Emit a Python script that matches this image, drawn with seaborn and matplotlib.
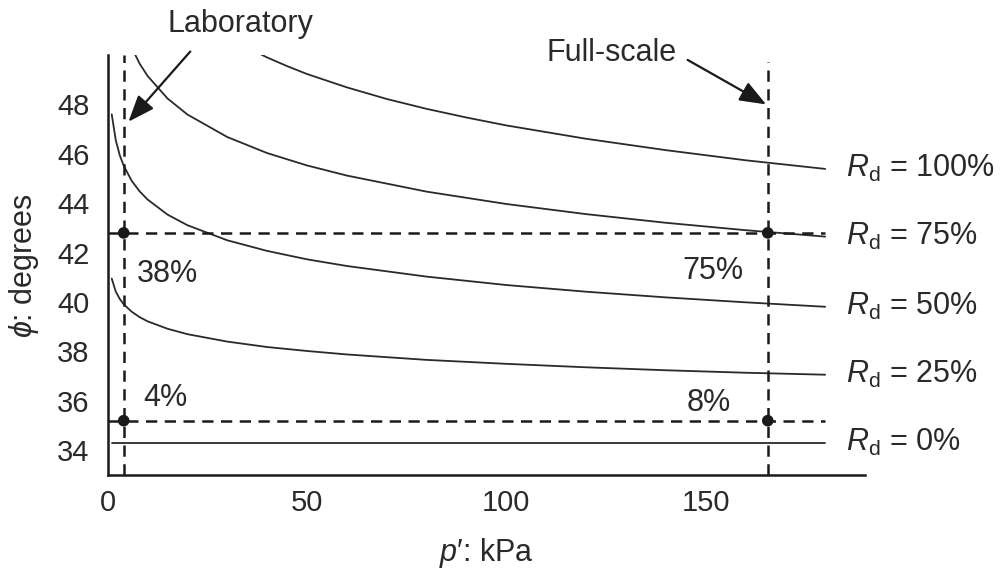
import numpy as np
import pandas as pd
import matplotlib
matplotlib.use("Agg")
import matplotlib.pyplot as plt
import seaborn as sns

# ---- data ----
p_25 = [1, 2, 3, 4, 6, 8, 10, 15, 20, 30, 40, 50, 60, 80, 100, 120, 140, 160, 180]
phi_25 = [40.95, 40.43, 40.13, 39.91, 39.61, 39.39, 39.22, 38.92, 38.70, 38.40,
          38.18, 38.02, 37.88, 37.66, 37.50, 37.36, 37.24, 37.14, 37.06]

p_50 = [1, 2, 3, 4, 6, 8, 10, 15, 20, 30, 40, 50, 60, 80, 100, 120, 140, 160, 180]
phi_50 = [47.60, 46.56, 45.95, 45.52, 44.91, 44.48, 44.15, 43.54, 43.11, 42.50,
          42.07, 41.73, 41.46, 41.03, 40.69, 40.42, 40.19, 39.99, 39.81]

p_75 = [6, 8, 10, 15, 20, 30, 40, 50, 60, 80, 100, 120, 140, 160, 180]
phi_75 = [50.30, 49.65, 49.15, 48.24, 47.59, 46.68, 46.03, 45.53, 45.12, 44.47,
          43.97, 43.56, 43.21, 42.91, 42.65]

p_100 = [38, 40, 45, 50, 60, 70, 80, 90, 100, 120, 140, 160, 180]
phi_100 = [50.06, 49.90, 49.55, 49.23, 48.69, 48.22, 47.82, 47.47, 47.15, 46.61,
           46.15, 45.74, 45.39]

p_0 = [1, 180]
phi_0 = [34.3, 34.3]

curve_labels = ["100%", "75%", "50%", "25%", "0%"]

lab_p = 4.0
full_p = 165.6
ref_phi = [42.8, 35.2]
pct_labels_lab = ["38%", "4%"]
pct_labels_full = ["75%", "8%"]

xticks = [0, 50, 100, 150]
yticks = [34, 36, 38, 40, 42, 44, 46, 48]

# ---- style ----
sns.set_theme(style="white")
plt.rcParams["font.family"] = ["Liberation Sans", "DejaVu Sans"]
plt.rcParams["mathtext.fontset"] = "custom"
plt.rcParams["mathtext.rm"] = "Liberation Sans"
plt.rcParams["mathtext.it"] = "Liberation Sans:italic"
plt.rcParams["mathtext.fallback"] = "cm"

ink = "#2a2a2a"
FS = 22
fig = plt.figure(figsize=(10.07, 5.73), dpi=100)
ax = fig.add_axes([0.107, 0.171, 0.752, 0.733])

curves = [(p_100, phi_100), (p_75, phi_75), (p_50, phi_50), (p_25, phi_25), (p_0, phi_0)]
for (px, py) in curves:
    sns.lineplot(x=px, y=py, ax=ax, color=ink, linewidth=1.3, estimator=None, sort=False)

# dashed reference lines
dash = dict(color="#1a1a1a", linewidth=1.8, linestyle=(0, (4.5, 3)))
for yv in ref_phi:
    ax.plot([0, 180], [yv, yv], **dash)
ax.plot([lab_p, lab_p], [33, 50], **dash)
ax.plot([full_p, full_p], [33, 49.7], **dash)

pts = pd.DataFrame({"p": [lab_p, lab_p, full_p, full_p],
                    "phi": [ref_phi[0], ref_phi[1], ref_phi[0], ref_phi[1]]})
sns.scatterplot(data=pts, x="p", y="phi", ax=ax, color="#1a1a1a", s=70,
                edgecolor="none", zorder=5)

# curve labels on the right
ends = [phi_100[-1], phi_75[-1], phi_50[-1], phi_25[-1], phi_0[-1]]
for lab, yv in zip(curve_labels, ends):
    ax.text(185.3, yv, r"$R_{\mathrm{d}}$ = " + lab, fontsize=FS, color=ink,
            va="center", ha="left", clip_on=False)

# percentage annotations
ax.text(15, 41.12, pct_labels_lab[0], fontsize=FS, color=ink, ha="center", va="center")
ax.text(14.4, 36.11, pct_labels_lab[1], fontsize=FS, color=ink, ha="center", va="center")
ax.text(159.4, 41.24, pct_labels_full[0], fontsize=FS, color=ink, ha="right", va="center")
ax.text(156.4, 35.93, pct_labels_full[1], fontsize=FS, color=ink, ha="right", va="center")

# arrows
arrowprops = dict(arrowstyle="-|>,head_length=0.9,head_width=0.35", color="#1a1a1a",
                  linewidth=1.6, shrinkA=0, shrinkB=0, mutation_scale=18)
ax.text(33.2, 51.25, "Laboratory", fontsize=FS, color=ink, ha="center", va="center",
        clip_on=False)
ax.annotate("", xy=(5.2, 47.3), xytext=(20.7, 50.14), annotation_clip=False,
            arrowprops=arrowprops)
ax.text(126.4, 50.1, "Full-scale", fontsize=FS, color=ink, ha="center", va="center",
        clip_on=False)
ax.annotate("", xy=(165.2, 48.0), xytext=(145.5, 49.8), annotation_clip=False,
            arrowprops=arrowprops)

ax.set_xlim(0, 190)
ax.set_ylim(33, 50)
ax.set_xticks(xticks)
ax.set_yticks(yticks)
ax.tick_params(direction="in", length=5, width=1.2, colors="#1a1a1a",
               labelsize=21, labelcolor=ink)
ax.tick_params(axis="y", pad=13)
ax.tick_params(axis="x", pad=10)
for s in ["top", "right"]:
    ax.spines[s].set_visible(False)
for s in ["left", "bottom"]:
    ax.spines[s].set_color("#1a1a1a")
    ax.spines[s].set_linewidth(1.8)

ax.set_xlabel(r"$p$′: kPa", fontsize=FS, color=ink, labelpad=14)
ax.set_ylabel(r"$\phi$: degrees", fontsize=FS, color=ink, labelpad=12)

fig.savefig("out.png", dpi=100, facecolor="white")
